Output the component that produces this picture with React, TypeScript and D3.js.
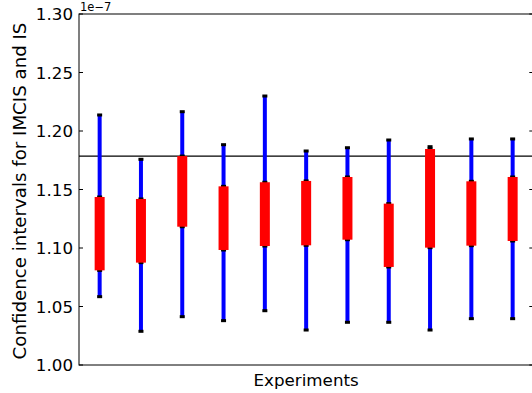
import * as d3 from "d3";

// values are in units of 1e-7
const experiments = [ 1, 2, 3, 4, 5, 6, 7, 8, 9, 10, 11 ];
const imcisLow = [ 1.0584, 1.0288, 1.0413, 1.0379, 1.0464, 1.0299, 1.0365, 1.0365, 1.0299, 1.0396, 1.0396 ];
const imcisHigh = [ 1.2137, 1.1758, 1.2165, 1.1883, 1.2299, 1.1829, 1.1857, 1.1923, 1.1866, 1.1932, 1.1932 ];
const isLow = [ 1.0809, 1.0875, 1.1182, 1.0983, 1.1017, 1.1023, 1.1071, 1.0838, 1.1003, 1.1020, 1.1060 ];
const isHigh = [ 1.1436, 1.1419, 1.1786, 1.1527, 1.1562, 1.1573, 1.1607, 1.1379, 1.1846, 1.1570, 1.1607 ];
const referenceValue = 1.1786;
const yTicks = [ 1.0, 1.05, 1.1, 1.15, 1.2, 1.25, 1.3 ];

const W = 532, H = 393;
const m = { left: 79, right: 533.3, top: 14, bottom: 365 };
const font = "'DejaVu Sans', sans-serif";

export default function App ()
{
    const x = d3.scaleLinear().domain( [ 0.5, experiments.length + 0.5 ] ).range( [ m.left, m.right ] );
    const y = d3.scaleLinear().domain( [ 1.0, 1.3 ] ).range( [ m.bottom, m.top ] );
    const fmt = d3.format( ".2f" );

    const cap = ( cx: number, v: number, key: string ) => (
        <rect key={ key } x={ cx - 2.5 } y={ y( v ) - 1.5 } width={ 5 } height={ 3 } fill="#000" />
    );

    return (
        <svg width={ W } height={ H } style={ { position: "absolute", left: 0, top: 0, display: "block", background: "#fff" } }>
            {/* reference line */ }
            <line x1={ m.left } x2={ m.right } y1={ y( referenceValue ) } y2={ y( referenceValue ) } stroke="#000" strokeWidth={ 1.2 } />

            {/* IMCIS intervals (blue) with caps */ }
            { experiments.map( ( e, i ) =>
            {
                const cx = x( e );
                return (
                    <g key={ "b" + i }>
                        <line x1={ cx } x2={ cx } y1={ y( imcisLow[ i ] ) } y2={ y( isLow[ i ] ) } stroke="#0000ff" strokeWidth={ 4 } />
                        <line x1={ cx } x2={ cx } y1={ y( isHigh[ i ] ) } y2={ y( imcisHigh[ i ] ) } stroke="#0000ff" strokeWidth={ 4 } />
                        { cap( cx, imcisLow[ i ], "c1" ) }
                        { cap( cx, isLow[ i ], "c2" ) }
                        { cap( cx, isHigh[ i ], "c3" ) }
                        { cap( cx, imcisHigh[ i ], "c4" ) }
                    </g>
                );
            } ) }

            {/* IS intervals (red) */ }
            { experiments.map( ( e, i ) => (
                <rect key={ "r" + i } x={ x( e ) - 5 } width={ 10 } y={ y( isHigh[ i ] ) } height={ y( isLow[ i ] ) - y( isHigh[ i ] ) } fill="#ff0000" />
            ) ) }

            {/* spines */ }
            <rect x={ m.left } y={ m.top } width={ m.right - m.left } height={ m.bottom - m.top } fill="none" stroke="#000" strokeWidth={ 1 } />

            {/* y ticks */ }
            { yTicks.map( ( t ) => (
                <g key={ "t" + t }>
                    <line x1={ m.left } x2={ m.left + 4 } y1={ y( t ) } y2={ y( t ) } stroke="#000" />
                    <line x1={ m.right - 4 } x2={ m.right } y1={ y( t ) } y2={ y( t ) } stroke="#000" />
                    <text x={ 73 } y={ y( t ) } dy="0.36em" textAnchor="end" fontFamily={ font } fontSize={ 16.7 } fill="#000">{ fmt( t ) }</text>
                </g>
            ) ) }

            <text x={ m.left + 1 } y={ 11 } fontFamily={ font } fontSize={ 11.5 } fill="#000">1e−7</text>

            <text x={ ( m.left + m.right ) / 2 } y={ 386 } textAnchor="middle" fontFamily={ font } fontSize={ 16.7 } fill="#000">Experiments</text>
            <text transform={ `translate(26,191) rotate(-90)` } textAnchor="middle" fontFamily={ font } fontSize={ 18.2 } fill="#000">Confidence intervals for IMCIS and IS</text>
        </svg>
    );
}
